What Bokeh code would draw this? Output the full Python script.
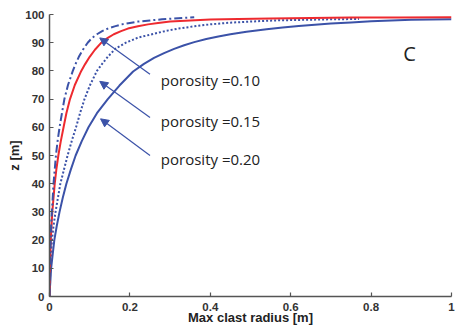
from bokeh.plotting import figure
from bokeh.models import Range1d, Arrow, NormalHead, FixedTicker, ColumnDataSource, NumeralTickFormatter
from bokeh.embed import file_html
from bokeh.resources import INLINE
from bokeh.core.properties import value

# ---- data ----
# porosity 0.10 (dash-dot blue)
dashdot_r = [0, 0.0005, 0.001, 0.002, 0.003, 0.004, 0.006, 0.008, 0.010, 0.013, 0.016, 0.020, 0.025, 0.031, 0.037,
             0.046, 0.058, 0.065, 0.073, 0.083, 0.095, 0.106, 0.118, 0.131, 0.145, 0.162, 0.18, 0.20, 0.22, 0.25,
             0.28, 0.32, 0.36]
dashdot_z = [0, 5, 10, 15, 20, 25, 30, 35, 40, 45, 50, 55, 60, 65, 70,
             75, 80, 82.5, 85, 87.5, 90, 91.7, 93, 94.1, 95, 95.8, 96.5, 97, 97.5, 97.9,
             98.3, 98.7, 99]
# red solid
red_r = [0, 0.0005, 0.001, 0.002, 0.003, 0.005, 0.007, 0.010, 0.013, 0.017, 0.022, 0.028, 0.035, 0.042, 0.051,
         0.063, 0.079, 0.089, 0.100, 0.113, 0.129, 0.145, 0.16, 0.178, 0.195, 0.22, 0.245, 0.27, 0.30, 0.35,
         0.40, 0.47, 0.55, 0.65, 0.75, 0.87, 1.0]
red_z = [0, 5, 10, 15, 20, 25, 30, 35, 40, 45, 50, 55, 60, 65, 70,
         75, 80, 82.5, 85, 87.5, 90, 91.7, 93, 94.1, 95, 95.8, 96.5, 97, 97.5, 97.9,
         98.2, 98.4, 98.6, 98.75, 98.9, 98.95, 99]
# porosity 0.15 (dotted blue)
dotted_r = [0, 0.001, 0.002, 0.004, 0.006, 0.010, 0.015, 0.021, 0.027, 0.036, 0.045, 0.055, 0.066, 0.076, 0.087,
            0.101, 0.118, 0.131, 0.145, 0.165, 0.19, 0.22, 0.255, 0.29, 0.32, 0.36, 0.40, 0.45, 0.50, 0.56,
            0.63, 0.70, 0.77]
dotted_z = [0, 5, 10, 15, 20, 25, 30, 35, 40, 45, 50, 55, 60, 65, 70,
            75, 80, 82.5, 85, 88, 90, 91.8, 93, 94.2, 95, 95.8, 96.5, 97.1, 97.5, 97.9,
            98.1, 98.3, 98.4]
# porosity 0.20 (solid blue)
solid_r = [0, 0.001, 0.002, 0.004, 0.008, 0.012, 0.018, 0.025, 0.033, 0.042, 0.053, 0.065, 0.080, 0.097, 0.118,
           0.145, 0.174, 0.208, 0.235, 0.26, 0.285, 0.31, 0.335, 0.36, 0.39, 0.42, 0.45, 0.49, 0.54, 0.58,
           0.62, 0.66, 0.70, 0.75, 0.80, 0.85, 0.90, 0.95, 1.0]
solid_z = [0, 3, 5, 10, 15, 20, 25, 30, 35, 40, 45, 50, 55, 60, 65,
           70, 74.8, 79.8, 82.5, 84.6, 86.3, 87.8, 89.1, 90.2, 91.3, 92.2, 93.0, 93.9, 94.8, 95.4,
           95.9, 96.4, 96.8, 97.2, 97.6, 97.9, 98.1, 98.25, 98.35]

label_texts = ["porosity =0.10", "porosity =0.15", "porosity =0.20"]
label_r = [0.277, 0.277, 0.277]
label_z = [76.9, 62.1, 48.9]

arrow_tail_r = [0.25, 0.25, 0.25]
arrow_tail_z = [78.8, 63.5, 50.0]
arrow_head_r = [0.125, 0.125, 0.127]
arrow_head_z = [91.7, 76.3, 63.0]

panel_text = ["C"]
panel_r = [0.88]
panel_z = [86.0]

x_ticks = [0, 0.2, 0.4, 0.6, 0.8, 1.0]
y_ticks = [0, 10, 20, 30, 40, 50, 60, 70, 80, 90, 100]

BLUE = "#3b52a8"
RED = "#ee2a2f"
AXIS = "#555555"

p = figure(width=456, height=334, output_backend="svg", toolbar_location=None,
           x_range=Range1d(0, 1), y_range=Range1d(0, 100),
           min_border_left=49, min_border_right=5, min_border_top=14, min_border_bottom=38)
p.outline_line_color = None
p.grid.visible = False
p.background_fill_color = "white"

for ax, ticks in ((p.xaxis, x_ticks), (p.yaxis, y_ticks)):
    ax.ticker = FixedTicker(ticks=ticks)
    ax.axis_line_color = AXIS
    ax.axis_line_width = 1.5
    ax.major_tick_line_color = AXIS
    ax.major_tick_line_width = 1.2
    ax.major_tick_in = 4
    ax.major_tick_out = 0
    ax.minor_tick_line_color = None
    ax.major_label_text_font = "Liberation Sans"
    ax.major_label_text_font_style = "bold"
    ax.major_label_text_font_size = "11.5px"
    ax.major_label_text_color = "#333333"
    ax.axis_label_text_font = "Liberation Sans"
    ax.axis_label_text_font_style = "bold"
    ax.axis_label_text_font_size = "13px"
    ax.axis_label_text_color = "#222222"

p.xaxis.formatter = NumeralTickFormatter(format="0.[0]")
p.xaxis.axis_label = "Max clast radius [m]"
p.yaxis.axis_label = "z [m]"
p.xaxis.major_label_standoff = 6
p.xaxis.axis_label_standoff = -4
p.yaxis.major_label_standoff = 5
p.yaxis.axis_label_standoff = 0

p.line(solid_r, solid_z, line_color=BLUE, line_width=2)
p.line(dotted_r, dotted_z, line_color=BLUE, line_width=2, line_dash="2 2")
p.line(red_r, red_z, line_color=RED, line_width=2)
p.line(dashdot_r, dashdot_z, line_color=BLUE, line_width=2, line_dash="8 3 2 3")

src = ColumnDataSource(dict(x0=arrow_tail_r, y0=arrow_tail_z, x1=arrow_head_r, y1=arrow_head_z))
p.add_layout(Arrow(x_start="x0", y_start="y0", x_end="x1", y_end="y1", source=src,
                   line_color=BLUE, line_width=1.2,
                   end=NormalHead(size=8, fill_color=BLUE, line_color=BLUE, line_width=1)))

p.text(x=label_r, y=label_z, text=label_texts, text_font=value("Open Sans"),
       text_font_size="15px", text_color="#222222", text_baseline="middle", text_align="left")
p.text(x=panel_r, y=panel_z, text=panel_text, text_font=value("Open Sans"),
       text_font_size="20px", text_color="#222222", text_baseline="middle", text_align="left")

open("out.html", "w").write(file_html(p, INLINE))
